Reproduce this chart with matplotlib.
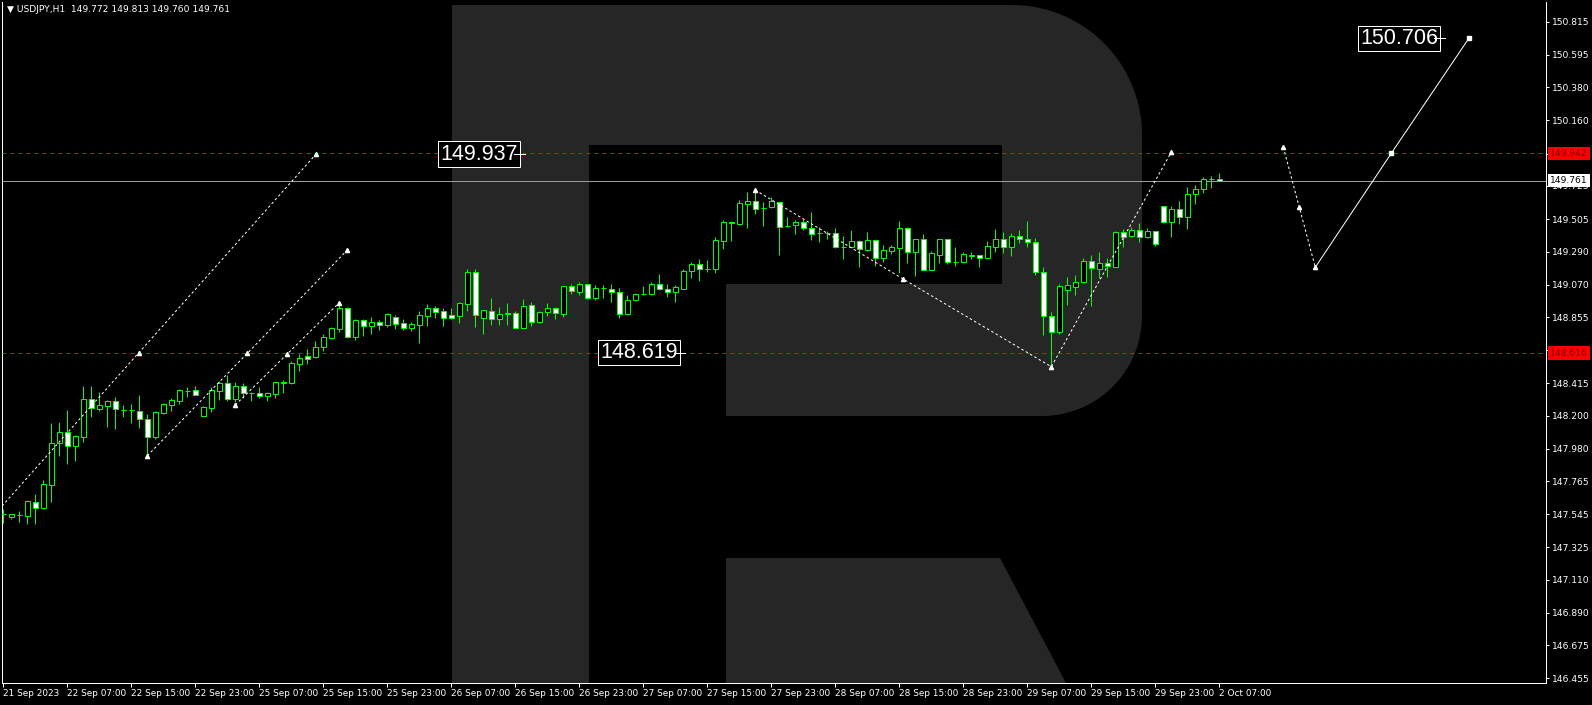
import matplotlib
matplotlib.use('Agg')
import matplotlib.pyplot as plt
from matplotlib.patches import Rectangle, Polygon
import matplotlib.transforms as mtransforms
import numpy as np

W, H, DPI = 1592, 705, 100

# ---------------- data ----------------
symbol = "USDJPY,H1"
last_ohlc = ["149.772", "149.813", "149.760", "149.761"]

opens = [147.548, 147.529, 147.540, 147.536, 147.625, 147.589, 147.742, 148.021, 148.092, 148.001,
         148.060, 148.309, 148.246, 148.266, 148.295, 148.240, 148.238, 148.229, 148.176, 148.060,
         148.220, 148.273, 148.299, 148.364, 148.368, 148.200, 148.253, 148.364, 148.415, 148.313,
         148.395, 148.349, 148.349, 148.333, 148.346, 148.419, 148.419, 148.545, 148.596, 148.590,
         148.656, 148.718, 148.775, 148.913, 148.724, 148.835, 148.797, 148.822, 148.802, 148.855,
         148.815, 148.784, 148.802, 148.862, 148.915, 148.895, 148.868, 148.862, 148.942, 149.152,
         148.850, 148.893, 148.840, 148.877, 148.880, 148.780, 148.933, 148.820, 148.886, 148.913,
         148.873, 149.059, 149.023, 149.072, 148.979, 149.046, 149.039, 149.019, 148.873, 148.966,
         149.006, 149.006, 149.072, 149.039, 149.019, 149.043, 149.163, 149.205, 149.172, 149.176,
         149.362, 149.481, 149.471, 149.607, 149.623, 149.581, 149.584, 149.617, 149.461, 149.464,
         149.484, 149.444, 149.415, 149.413, 149.411, 149.322, 149.322, 149.358, 149.302, 149.364,
         149.249, 149.296, 149.315, 149.444, 149.285, 149.371, 149.169, 149.269, 149.371, 149.220,
         149.222, 149.262, 149.265, 149.249, 149.318, 149.371, 149.318, 149.391, 149.371, 149.351,
         149.152, 148.860, 148.753, 149.032, 149.056, 149.086, 149.225, 149.176, 149.212, 149.189,
         149.418, 149.391, 149.431, 149.384, 149.424, 149.590, 149.484, 149.570, 149.517, 149.670,
         149.703, 149.770, 149.772]
highs = [147.580, 147.547, 147.567, 147.640, 147.680, 147.773, 148.153, 148.158, 148.238, 148.072,
         148.397, 148.397, 148.357, 148.304, 148.322, 148.271, 148.277, 148.337, 148.211, 148.231,
         148.284, 148.315, 148.377, 148.390, 148.397, 148.264, 148.388, 148.430, 148.470, 148.422,
         148.415, 148.356, 148.388, 148.356, 148.424, 148.437, 148.563, 148.607, 148.643, 148.694,
         148.742, 148.789, 148.950, 148.919, 148.842, 148.842, 148.855, 148.835, 148.882, 148.868,
         148.842, 148.822, 148.895, 148.942, 148.928, 148.915, 148.915, 148.955, 149.174, 149.172,
         148.902, 148.979, 148.919, 148.946, 148.893, 148.973, 148.953, 148.893, 148.946, 148.919,
         149.059, 149.072, 149.086, 149.072, 149.066, 149.066, 149.072, 149.046, 148.999, 149.013,
         149.059, 149.086, 149.139, 149.072, 149.066, 149.174, 149.218, 149.238, 149.234, 149.386,
         149.497, 149.493, 149.632, 149.685, 149.710, 149.619, 149.650, 149.617, 149.517, 149.497,
         149.504, 149.552, 149.451, 149.428, 149.444, 149.393, 149.431, 149.364, 149.420, 149.364,
         149.331, 149.331, 149.493, 149.451, 149.371, 149.406, 149.293, 149.371, 149.371, 149.322,
         149.285, 149.285, 149.265, 149.360, 149.437, 149.418, 149.411, 149.431, 149.493, 149.378,
         149.185, 148.886, 149.072, 149.119, 149.132, 149.245, 149.265, 149.285, 149.247, 149.426,
         149.437, 149.451, 149.477, 149.444, 149.424, 149.590, 149.592, 149.623, 149.716, 149.730,
         149.783, 149.789, 149.813]
lows = [147.487, 147.516, 147.494, 147.481, 147.481, 147.582, 147.629, 147.932, 147.881, 147.901,
        148.025, 148.193, 148.231, 148.127, 148.113, 148.193, 148.149, 148.120, 147.928, 148.043,
        148.213, 148.231, 148.277, 148.326, 148.339, 148.200, 148.226, 148.304, 148.299, 148.290,
        148.315, 148.299, 148.315, 148.299, 148.319, 148.352, 148.410, 148.499, 148.543, 148.583,
        148.631, 148.712, 148.757, 148.718, 148.702, 148.729, 148.742, 148.769, 148.789, 148.776,
        148.769, 148.762, 148.682, 148.796, 148.849, 148.796, 148.842, 148.815, 148.895, 148.787,
        148.742, 148.804, 148.804, 148.804, 148.780, 148.780, 148.793, 148.815, 148.860, 148.844,
        148.853, 149.006, 149.000, 148.973, 148.966, 148.979, 148.953, 148.847, 148.866, 148.959,
        149.000, 149.000, 149.032, 148.986, 148.957, 149.041, 149.116, 149.096, 149.154, 149.149,
        149.309, 149.362, 149.466, 149.448, 149.541, 149.461, 149.578, 149.269, 149.455, 149.408,
        149.431, 149.366, 149.355, 149.375, 149.313, 149.242, 149.318, 149.189, 149.296, 149.194,
        149.220, 149.273, 149.149, 149.216, 149.130, 149.167, 149.165, 149.216, 149.205, 149.196,
        149.215, 149.242, 149.189, 149.240, 149.289, 149.278, 149.262, 149.348, 149.318, 149.132,
        148.734, 148.530, 148.745, 148.933, 149.003, 149.080, 148.930, 149.116, 149.119, 149.185,
        149.318, 149.385, 149.351, 149.378, 149.329, 149.480, 149.388, 149.475, 149.441, 149.607,
        149.677, 149.710, 149.760]
closes = [147.545, 147.545, 147.542, 147.631, 147.589, 147.744, 148.017, 148.092, 148.001, 148.063,
          148.309, 148.249, 148.269, 148.295, 148.242, 148.238, 148.240, 148.176, 148.056, 148.222,
          148.277, 148.302, 148.368, 148.366, 148.339, 148.258, 148.368, 148.417, 148.313, 148.395,
          148.349, 148.351, 148.333, 148.349, 148.422, 148.421, 148.548, 148.581, 148.578, 148.654,
          148.720, 148.782, 148.913, 148.724, 148.835, 148.797, 148.820, 148.802, 148.875, 148.809,
          148.782, 148.809, 148.868, 148.915, 148.888, 148.849, 148.849, 148.948, 149.154, 148.866,
          148.900, 148.840, 148.873, 148.879, 148.780, 148.926, 148.820, 148.886, 148.913, 148.880,
          149.059, 149.026, 149.072, 148.979, 149.046, 149.048, 149.019, 148.873, 148.966, 149.006,
          149.008, 149.072, 149.039, 149.019, 149.052, 149.159, 149.205, 149.172, 149.174, 149.364,
          149.484, 149.483, 149.610, 149.623, 149.574, 149.579, 149.623, 149.451, 149.459, 149.484,
          149.444, 149.408, 149.413, 149.415, 149.318, 149.320, 149.358, 149.305, 149.364, 149.249,
          149.298, 149.318, 149.444, 149.285, 149.371, 149.169, 149.278, 149.371, 149.218, 149.222,
          149.271, 149.264, 149.249, 149.325, 149.371, 149.318, 149.391, 149.375, 149.351, 149.152,
          148.860, 148.753, 149.059, 149.066, 149.086, 149.225, 149.178, 149.212, 149.192, 149.418,
          149.388, 149.431, 149.384, 149.424, 149.338, 149.484, 149.570, 149.517, 149.670, 149.703,
          149.770, 149.772, 149.761]

time_labels = ["21 Sep 2023", "22 Sep 07:00", "22 Sep 15:00", "22 Sep 23:00", "25 Sep 07:00",
               "25 Sep 15:00", "25 Sep 23:00", "26 Sep 07:00", "26 Sep 15:00", "26 Sep 23:00",
               "27 Sep 07:00", "27 Sep 15:00", "27 Sep 23:00", "28 Sep 07:00", "28 Sep 15:00",
               "28 Sep 23:00", "29 Sep 07:00", "29 Sep 15:00", "29 Sep 23:00", "2 Oct 07:00"]
time_label_bars = [0, 8, 16, 24, 32, 40, 48, 56, 64, 72, 80, 88, 96, 104, 112, 120, 128, 136, 144, 152]

price_ticks = [150.815, 150.595, 150.380, 150.160, 149.940, 149.725, 149.505, 149.290, 149.070,
               148.855, 148.635, 148.415, 148.200, 147.980, 147.765, 147.545, 147.325, 147.110,
               146.890, 146.675, 146.455]

level_high = 149.942
level_low = 148.616
bid = 149.761

# forecast / channel drawings (bar index, price)
chan1_x = [-0.16, 16.96, 39.1]
chan1_y = [147.600, 148.619, 149.937]
chan2_x = [18.0, 30.5, 43.0]
chan2_y = [147.934, 148.614, 149.300]
chan3_x = [29.0, 35.5, 42.0]
chan3_y = [148.271, 148.610, 148.950]
zig_x = [94.0, 112.5, 131.0, 146.0]
zig_y = [149.698, 149.107, 148.525, 149.950]
fc_dash_x = [160.0, 162.0, 164.0]
fc_dash_y = [149.982, 149.584, 149.185]
fc_solid_x = [164.0, 173.5, 183.2]
fc_solid_y = [149.185, 149.942, 150.706]

big_labels = ["149.937", "148.619", "150.706"]
big_label_x = [54.6, 74.6, 169.6]
big_label_y = [149.937, 148.619, 150.706]

# ---------------- styling ----------------
GREEN = '#00FF00'
LOGO = '#262626'
BG = '#000000'
px = 72.0 / DPI  # points per pixel

fig = plt.figure(figsize=(W / DPI, H / DPI), dpi=DPI, facecolor=BG)

# watermark layer in pixel coordinates
bgax = fig.add_axes([0, 0, 1, 1], zorder=0)
bgax.set_xlim(0, W)
bgax.set_ylim(H, 0)
bgax.axis('off')
bgax.set_facecolor(BG)

def arc(cx, cy, r, a0, a1, n=30):
    t = np.radians(np.linspace(a0, a1, n))
    return list(zip(cx + r * np.cos(t), cy + r * np.sin(t)))

r1, r2 = 130, 100
pts = [(452, 5), (1142 - r1, 5)]
pts += arc(1142 - r1, 5 + r1, r1, -90, 0)
pts += arc(1142 - r2, 416 - r2, r2, 0, 90)
pts += [(726, 416), (726, 284), (1002, 284), (1002, 145), (589, 145), (589, 683), (452, 683)]
bgax.add_patch(Polygon(pts, closed=True, facecolor=LOGO, edgecolor='none'))
bgax.add_patch(Polygon([(726, 558), (1000, 558), (1066, 683), (726, 683)], closed=True,
                       facecolor=LOGO, edgecolor='none'))

# main chart axes
L, R, T, B = 2, 1546, 2, 683
ax = fig.add_axes([L / W, (H - B) / H, (R - L) / W, (B - T) / H], zorder=1)
ax.patch.set_alpha(0)

def price_of(ypix):
    return 150.960 - 0.00664 * ypix

ax.set_ylim(price_of(B), price_of(T))
ax.set_xlim((L - 3.3) / 8.0, (R - 3.3) / 8.0)

lw = 1.0 * px
bw = 0.56
for i, (o, h, l, c) in enumerate(zip(opens, highs, lows, closes)):
    ax.plot([i, i], [l, h], color=GREEN, lw=lw, zorder=3, solid_capstyle='butt')
    bull = c >= o
    ax.add_patch(Rectangle((i - bw / 2, min(o, c)), bw, abs(c - o),
                           facecolor=BG if bull else 'white', edgecolor=GREEN, lw=lw, zorder=4))

# horizontal levels
ax.axhline(level_high, color='#FF0000', lw=lw, ls=(0, (4, 4)), zorder=2)
ax.axhline(level_low, color='#FF0000', lw=lw, ls=(0, (4, 4)), zorder=2)
ax.axhline(bid, color='#9a9fa6', lw=lw, zorder=2)

dash = (0, (2.5, 2.5))
for xs, ys, mk in [(chan1_x, chan1_y, [1, 2]), (chan2_x, chan2_y, [0, 1, 2]),
                   (chan3_x, chan3_y, [0, 1, 2]), (zig_x, zig_y, [0, 1, 2, 3]),
                   (fc_dash_x, fc_dash_y, [0, 1, 2])]:
    ax.plot(xs, ys, color='white', lw=lw, ls=dash, zorder=5)
    ax.plot([xs[k] for k in mk], [ys[k] for k in mk], ls='none', marker='^', ms=3,
            color='white', zorder=6)
ax.plot(fc_solid_x, fc_solid_y, color='white', lw=lw, zorder=5)
ax.plot([fc_solid_x[1], fc_solid_x[2]], [fc_solid_y[1], fc_solid_y[2]], ls='none', marker='s',
        ms=3, color='white', zorder=6)

for txt, xv, yv in zip(big_labels, big_label_x, big_label_y):
    ax.text(xv, yv, txt, color='white', fontsize=15.5, va='center', ha='left',
            family=['Liberation Sans Narrow', 'Liberation Sans'], zorder=7,
            bbox=dict(boxstyle='square,pad=0.1', facecolor=BG, edgecolor='white', lw=lw))
    ax.plot([xv + 9.2, xv + 10.6], [yv, yv], color='white', lw=lw, zorder=7)

# axes styling
ax.spines['top'].set_visible(False)
for s in ['left', 'right', 'bottom']:
    ax.spines[s].set_color('white')
    ax.spines[s].set_linewidth(lw)

ax.yaxis.tick_right()
ax.set_yticks(price_ticks)
ax.set_yticklabels([f"{v:.3f}" for v in price_ticks])
ax.tick_params(axis='y', colors='white', labelcolor='white', length=3 * px, width=lw,
               direction='out', pad=2, labelsize=6.6)
ax.set_xticks(time_label_bars)
ax.set_xticklabels(time_labels)
ax.tick_params(axis='x', colors='white', labelcolor='white', length=4 * px, width=lw,
               direction='out', pad=1.5, labelsize=6.4)
for lab in ax.get_xticklabels():
    lab.set_horizontalalignment('left')
for lab in ax.get_xticklabels() + ax.get_yticklabels():
    lab.set_family('DejaVu Sans')

# axis price tags
tag_tr = mtransforms.blended_transform_factory(ax.transAxes, ax.transData)
xoff = 1 + 4.0 / (R - L)
for v, fc, tc in [(level_high, '#FF0000', '#7a0000'), (level_low, '#FF0000', '#7a0000'),
                  (bid, 'white', 'black')]:
    ax.text(xoff, v, f"{v:.3f}", transform=tag_tr, color=tc, fontsize=6.6, va='center',
            ha='left', family='DejaVu Sans', clip_on=False, zorder=10,
            bbox=dict(boxstyle='square,pad=0.25', facecolor=fc, edgecolor='none'))

# header
fig.text(7 / W, 1 - 9 / H, "\u25bc " + symbol + "  " + " ".join(last_ohlc), color='white',
         fontsize=6.6, va='center', ha='left', family='DejaVu Sans')

fig.savefig('out.png', dpi=DPI, facecolor=BG)
